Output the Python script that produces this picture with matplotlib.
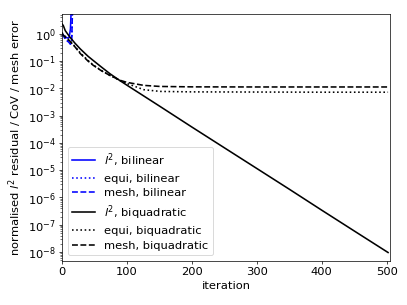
import numpy as np
import matplotlib
matplotlib.use("Agg")
import matplotlib.pyplot as plt

# bilinear (diverging early)
it_bl_l2 = [0, 4, 8, 11, 13, 14, 15, 16]
bl_l2 = [1.0, 0.8, 0.7, 0.72, 1.5, 6.0, 30.0, 100.0]
it_bl_eq = [0, 5, 10, 13, 15, 16, 17]
bl_eq = [1.0, 0.65, 0.5, 0.42, 0.6, 6.0, 60.0]
it_bl_mesh = [0, 5, 10, 13, 15, 16, 17]
bl_mesh = [1.0, 0.65, 0.5, 0.42, 0.6, 6.0, 60.0]

# biquadratic
it_bq = [0, 2, 5, 12, 20, 28, 40, 48, 60, 74, 88, 100,
         150, 200, 250, 300, 350, 400, 450, 502]
bq_l2 = [2.3, 2.0, 1.3, 0.76, 0.45, 0.28, 0.15, 0.105, 0.062, 0.034,
         0.020, 0.013, 2.24e-3, 3.8e-4, 6.6e-5, 1.15e-5, 2.0e-6,
         3.4e-7, 5.9e-8, 9.6e-9]
it_bq2 = [0, 5, 12, 20, 28, 40, 48, 60, 74, 90, 100, 126, 151,
          200, 300, 400, 502]
bq_eq = [1.1, 0.8, 0.56, 0.34, 0.20, 0.105, 0.072, 0.046, 0.0295, 0.019,
         0.015, 0.0089, 0.0077, 0.0074, 0.0073, 0.0072, 0.0072]
bq_mesh = [1.0, 0.75, 0.54, 0.33, 0.19, 0.10, 0.070, 0.045, 0.0295, 0.0195,
           0.0165, 0.0128, 0.0117, 0.0113, 0.0112, 0.0112, 0.0112]

plt.rcParams['font.size'] = 13
lw = 1.8
fig = plt.figure(figsize=(6.4, 4.8), dpi=407/6.4)
ax = fig.add_axes([62/407, 1 - 261/305, (390-62)/407, (261-14)/305])

ax.semilogy(it_bl_l2, bl_l2, '-', color='blue', lw=lw, label=r'$l^2$, bilinear')
ax.semilogy(it_bl_eq, bl_eq, ':', color='blue', lw=lw, label='equi, bilinear')
ax.semilogy(it_bl_mesh, bl_mesh, '--', color='blue', lw=lw, label='mesh, bilinear')
ax.semilogy(it_bq, bq_l2, '-', color='black', lw=lw, label=r'$l^2$, biquadratic')
ax.semilogy(it_bq2, bq_eq, ':', color='black', lw=lw, label='equi, biquadratic')
ax.semilogy(it_bq2, bq_mesh, '--', color='black', lw=lw, label='mesh, biquadratic')

ax.set_xlim(0, 505)
ax.set_ylim(4.7e-9, 5.4)
ax.set_xticks([0, 100, 200, 300, 400, 500])
ax.set_yticks([10.0**k for k in range(-8, 1)])
ax.set_xlabel('iteration')
ax.set_ylabel(r'normalised $l^2$ residual / CoV / mesh error')
ax.legend(loc='lower left', labelspacing=0.4)

fig.savefig('out.png', dpi=407/6.4)
